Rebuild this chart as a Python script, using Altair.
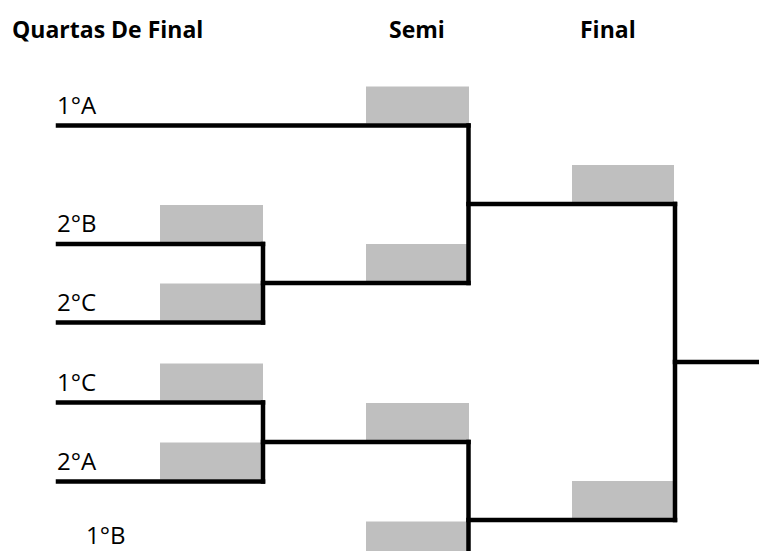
import altair as alt
import pandas as pd

# ---- bracket data (image pixel space) ----
team_labels = ["1°A", "2°B", "2°C", "1°C", "2°A", "1°B"]
team_y = [125.5, 244.0, 322.5, 402.5, 481.5, 560.5]
team_x_end = [468.5, 263.0, 263.0, 263.0, 263.0, 468.5]
label_x = [57, 57, 57, 57, 57, 86]
label_y = [113.5, 232.0, 310.5, 390.5, 469.5, 544.0]
line_start = 58.0

quarter_pairs = [(244.0, 322.5), (402.5, 481.5)]
quarter_x = 263.0
semi_x = 468.5
semi_y = [125.5, 283.0, 442.0, 560.5]
final_x = 675.0
final_y = [204.0, 520.0]
champ_x_end = 767.0

quarter_box_y = [244.0, 322.5, 402.5, 481.5]
quarter_box_x = (160.0, 263.0)
semi_box_x = (366.0, 469.0)
final_box_x = (572.0, 674.0)
box_h = 37.0

header_text = ["Quartas De Final", "Semi", "Final"]
header_x = [12, 389, 580]
header_y = 38

# ---- build tables ----
segs = []
for y, xe in zip(team_y, team_x_end):
    segs.append(dict(x=line_start, x2=xe, y=y, y2=y))
for (a, b), sy in zip(quarter_pairs, semi_y[1:3]):
    segs.append(dict(x=quarter_x, x2=quarter_x, y=a, y2=b))
    segs.append(dict(x=quarter_x, x2=semi_x, y=sy, y2=sy))
segs.append(dict(x=semi_x, x2=semi_x, y=semi_y[0], y2=semi_y[1]))
segs.append(dict(x=semi_x, x2=final_x, y=final_y[0], y2=final_y[0]))
segs.append(dict(x=semi_x, x2=semi_x, y=semi_y[2], y2=semi_y[3]))
segs.append(dict(x=semi_x, x2=final_x, y=final_y[1], y2=final_y[1]))
segs.append(dict(x=final_x, x2=final_x, y=final_y[0], y2=final_y[1]))
champ_y = (final_y[0] + final_y[1]) / 2
segs.append(dict(x=final_x, x2=champ_x_end, y=champ_y, y2=champ_y))
seg_df = pd.DataFrame(segs)

boxes = []
for y in quarter_box_y:
    boxes.append(dict(x=quarter_box_x[0], x2=quarter_box_x[1], y=y - 2 - box_h, y2=y - 2))
for y in semi_y:
    boxes.append(dict(x=semi_box_x[0], x2=semi_box_x[1], y=y - 2 - box_h, y2=y - 2))
for y in final_y:
    boxes.append(dict(x=final_box_x[0], x2=final_box_x[1], y=y - 2 - box_h, y2=y - 2))
box_df = pd.DataFrame(boxes)

label_df = pd.DataFrame(dict(label=team_labels, x=label_x, y=label_y))
head_df = pd.DataFrame(dict(label=header_text, x=header_x, y=[header_y] * 3))

# visible page area: 8px body margin, keep everything inside the viewport
X0, X1 = 8, 759
Y0, Y1 = 8, 551
W, H = X1 - X0, Y1 - Y0
xs = alt.Scale(domain=[X0, X1], range=[0, W], zero=False, nice=False)
ys = alt.Scale(domain=[Y0, Y1], range=[0, H], zero=False, nice=False)

X = lambda: alt.X("x:Q", scale=xs, axis=None)
Y = lambda: alt.Y("y:Q", scale=ys, axis=None)

box_layer = alt.Chart(box_df).mark_rect(color="#BFBFBF").encode(
    x=X(), x2="x2:Q", y=Y(), y2="y2:Q")

seg_layer = alt.Chart(seg_df).mark_rule(color="black", strokeWidth=4.5, strokeCap="square").encode(
    x=X(), x2="x2:Q", y=Y(), y2="y2:Q")

label_layer = alt.Chart(label_df).mark_text(
    align="left", baseline="alphabetic", font="Open Sans", fontSize=24, color="black"
).encode(x=X(), y=Y(), text="label:N")

head_layer = alt.Chart(head_df).mark_text(
    align="left", baseline="alphabetic", font="Open Sans", fontSize=23, fontWeight="bold", color="black"
).encode(x=X(), y=Y(), text="label:N")

chart = alt.layer(box_layer, seg_layer, label_layer, head_layer).properties(
    width=W, height=H, padding=0, autosize=alt.AutoSizeParams(type="none")
).configure_view(stroke=None, clip=True)

chart.save("out.html", embed_options={"renderer": "svg", "actions": False})
